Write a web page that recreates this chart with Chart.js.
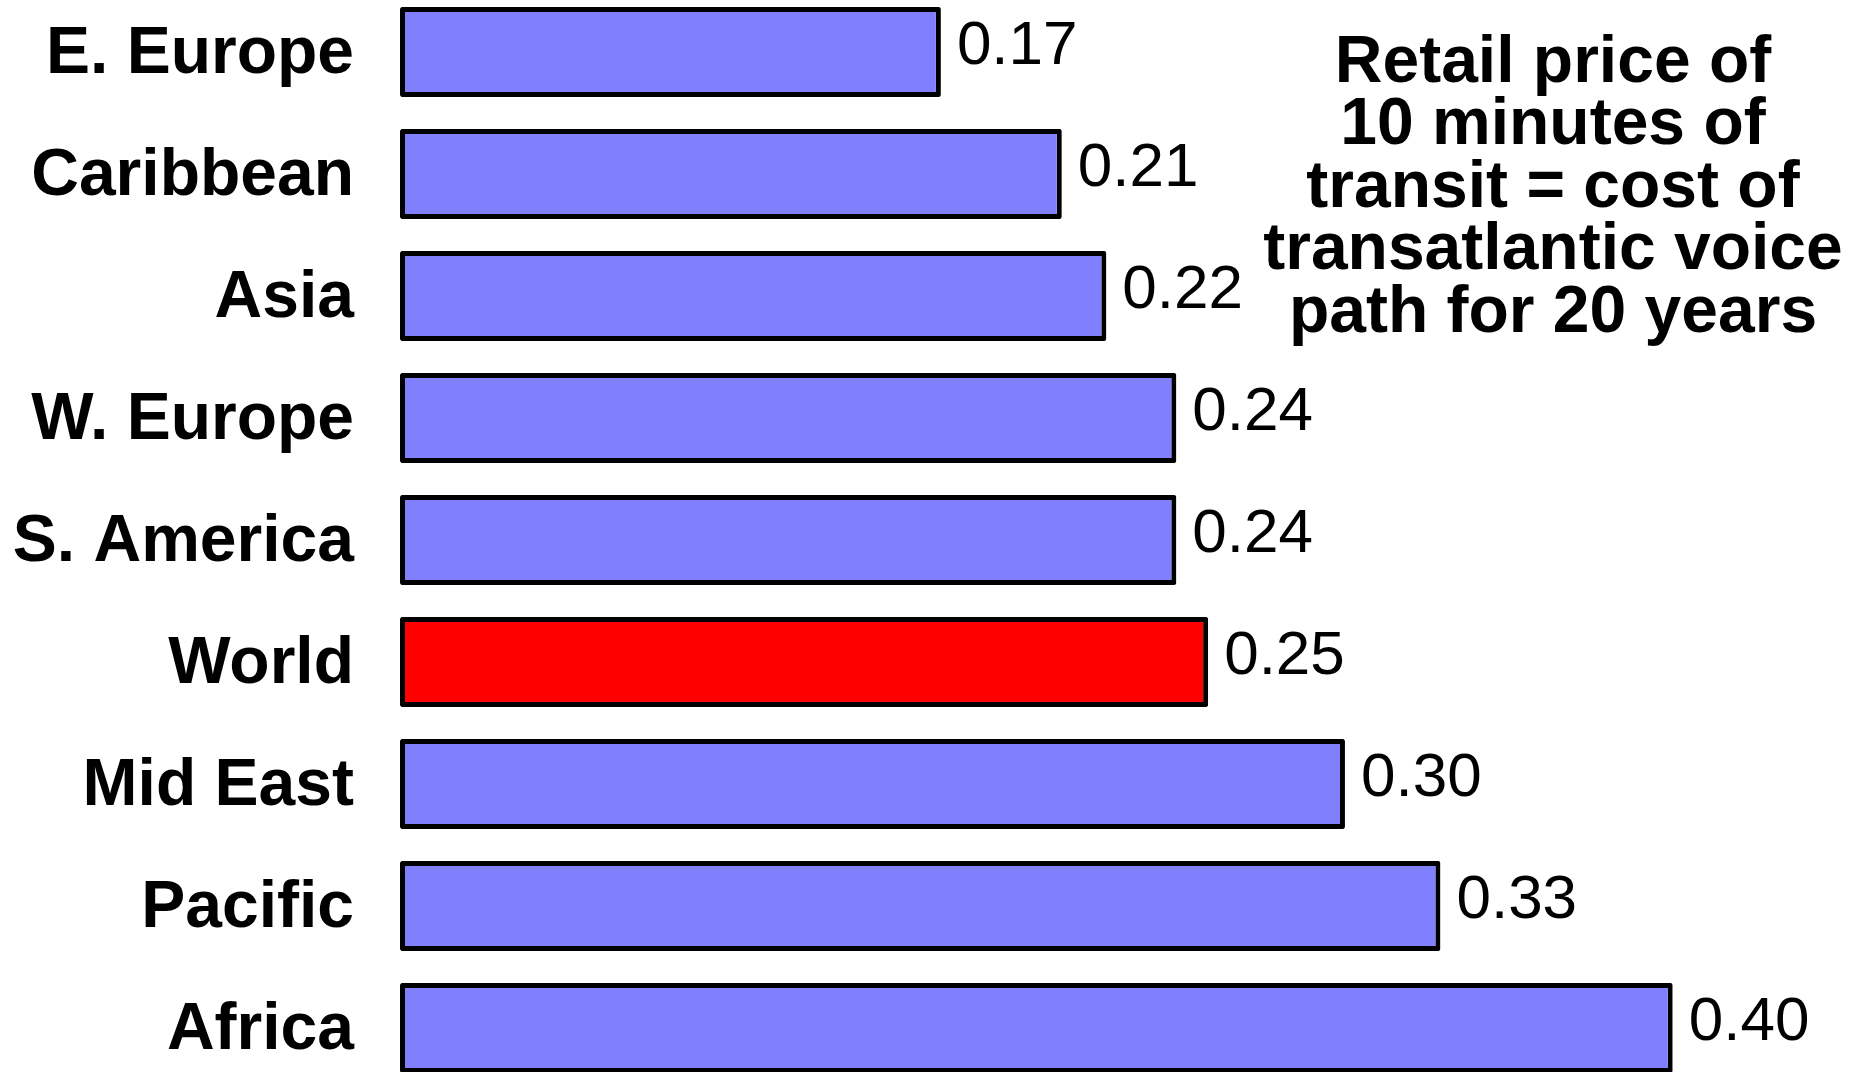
<!DOCTYPE html>
<html><head><meta charset="utf-8">
<script src="https://cdn.jsdelivr.net/npm/chart.js@4/dist/chart.umd.min.js"></script>
<style>
html,body{margin:0;padding:0;background:#fff;overflow:hidden;width:1863px;height:1072px;}
#wrap{position:absolute;left:0;top:-9px;width:1863px;height:1098px;}
</style></head><body>
<div id="wrap"><canvas id="c"></canvas></div>
<script>
const categories = ["E. Europe","Caribbean","Asia","W. Europe","S. America","World","Mid East","Pacific","Africa"];
const values = [0.170, 0.208, 0.222, 0.244, 0.244, 0.254, 0.297, 0.327, 0.400];
const highlightCategory = "World";
const noteLines = ["Retail price of","10 minutes of","transit = cost of","transatlantic voice","path for 20 years"];

const FONT = '"Liberation Sans", Arial, Helvetica, sans-serif';
const barColors = categories.map(c => c === highlightCategory ? '#FF0000' : '#8080FF');

const labelPlugin = {
  id: 'labels',
  afterDatasetsDraw(chart) {
    const ctx = chart.ctx;
    const meta = chart.getDatasetMeta(0);
    ctx.save();
    ctx.font = '62px ' + FONT;
    ctx.fillStyle = '#000';
    ctx.textAlign = 'left';
    ctx.textBaseline = 'alphabetic';
    meta.data.forEach((bar, i) => {
      ctx.fillText(values[i].toFixed(2), bar.x + 16, bar.y + 12);
    });
    ctx.restore();
  },
  afterDraw(chart) {
    const ctx = chart.ctx;
    ctx.save();
    ctx.font = 'bold 66px ' + FONT;
    ctx.fillStyle = '#000';
    ctx.textAlign = 'center';
    ctx.textBaseline = 'alphabetic';
    const cx = 1553, y0 = 82 + 9, pitch = 62.4;
    noteLines.forEach((t, i) => ctx.fillText(t, cx, y0 + i * pitch));
    ctx.restore();
  }
};

new Chart(document.getElementById('c'), {
  type: 'bar',
  data: {
    labels: categories,
    datasets: [{
      data: values,
      backgroundColor: barColors,
      borderColor: '#000',
      borderWidth: 5,
      borderSkipped: false,
      borderRadius: 2,
      barPercentage: 0.738,
      categoryPercentage: 1.0
    }]
  },
  options: {
    indexAxis: 'y',
    responsive: true,
    maintainAspectRatio: false,
    animation: false,
    layout: { padding: { left: 0, right: 1, top: 0, bottom: 0 } },
    plugins: { legend: { display: false }, tooltip: { enabled: false }, title: { display: false } },
    scales: {
      x: { display: false, min: 0, max: 0.4595 },
      y: {
        afterFit(scale) {
          scale.width = 400;
          scale.paddingTop = 0;
          scale.paddingBottom = 0;
        },
        grid: { display: false, drawTicks: false },
        border: { display: false },
        ticks: {
          color: '#000',
          padding: 46,
          labelOffset: 3,
          font: { family: FONT, size: 66, weight: 'bold' }
        }
      }
    }
  },
  plugins: [labelPlugin]
});
</script>
</body></html>
